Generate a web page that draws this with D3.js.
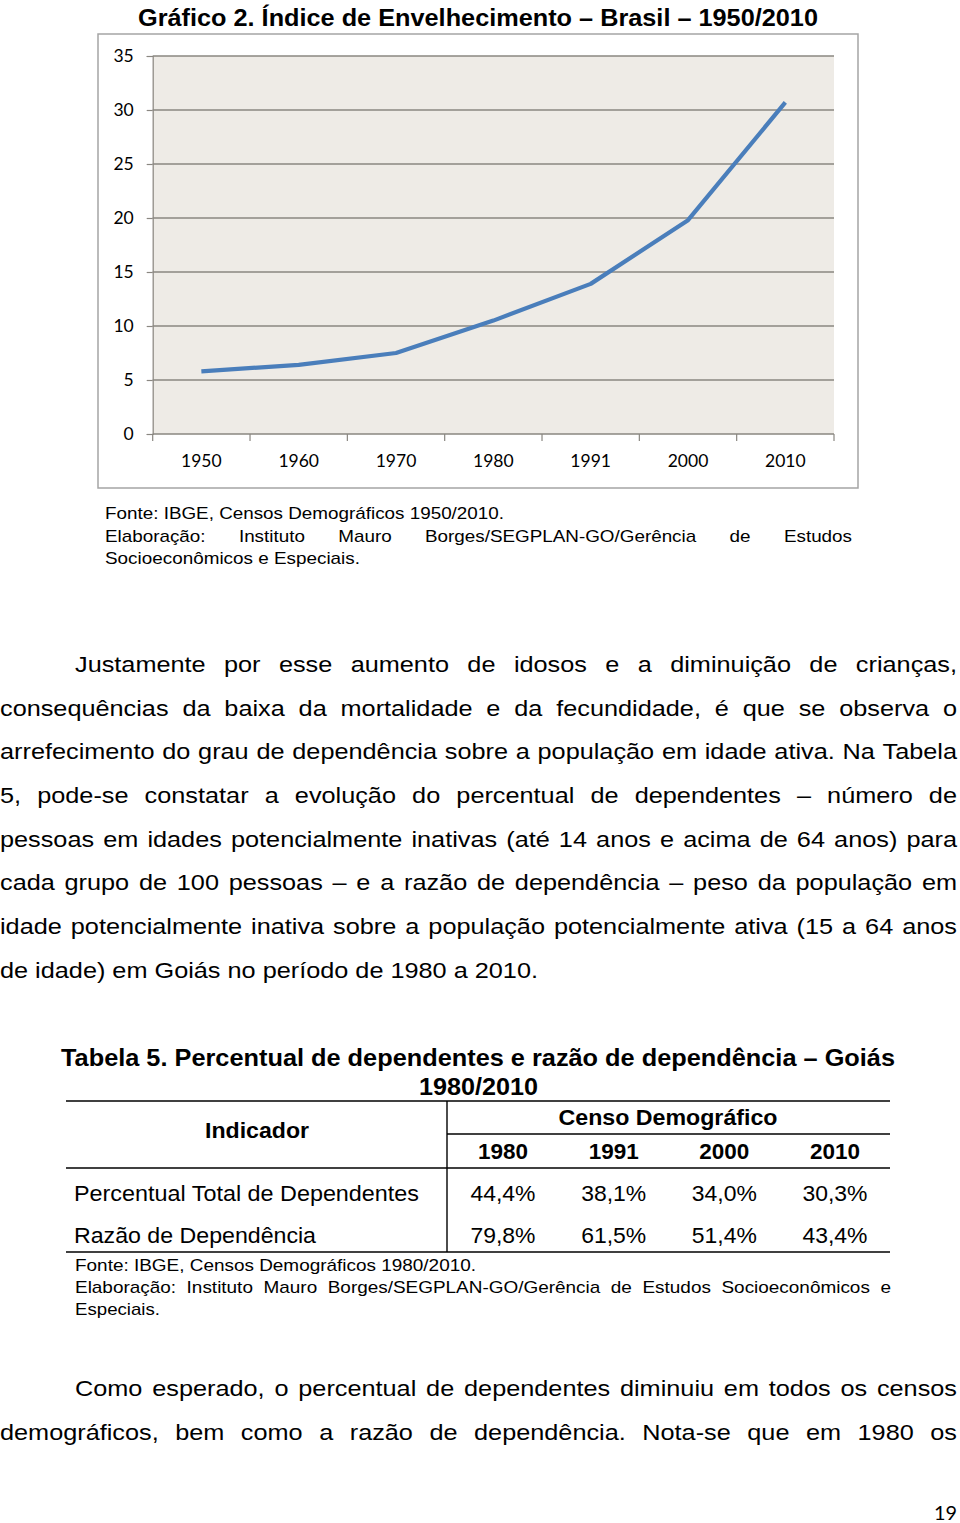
<!DOCTYPE html>
<html>
<head>
<meta charset="utf-8">
<script src="https://cdn.jsdelivr.net/npm/d3@7"></script>
<style>
  html, body { margin: 0; padding: 0; background: #fff; }
  svg { display: block; }
</style>
</head>
<body>
<script>
// ---------- DATA ----------
const years = ["1950", "1960", "1970", "1980", "1991", "2000", "2010"];
const indexValues = [5.8, 6.4, 7.5, 10.5, 13.9, 19.8, 30.7];
const yTicks = [0, 5, 10, 15, 20, 25, 30, 35];

const tableYears = ["1980", "1991", "2000", "2010"];
const rowLabels = ["Percentual Total de Dependentes", "Razão de Dependência"];
const rowPercentual = ["44,4%", "38,1%", "34,0%", "30,3%"];
const rowRazao = ["79,8%", "61,5%", "51,4%", "43,4%"];

const chartTitle = "Gráfico 2. Índice de Envelhecimento – Brasil – 1950/2010";
const chartSource = [
  "Fonte: IBGE, Censos Demográficos 1950/2010.",
  "Elaboração: Instituto Mauro Borges/SEGPLAN-GO/Gerência de Estudos",
  "Socioeconômicos e Especiais."
];
const bodyLines = [
  "Justamente por esse aumento de idosos e a diminuição de crianças,",
  "consequências da baixa da mortalidade e da fecundidade, é que se observa o",
  "arrefecimento do grau de dependência sobre a população em idade ativa. Na Tabela",
  "5, pode-se constatar a evolução do percentual de dependentes – número de",
  "pessoas em idades potencialmente inativas (até 14 anos e acima de 64 anos) para",
  "cada grupo de 100 pessoas – e a razão de dependência – peso da população em",
  "idade potencialmente inativa sobre a população potencialmente ativa (15 a 64 anos",
  "de idade) em Goiás no período de 1980 a 2010."
];
const tableTitle = ["Tabela 5. Percentual de dependentes e razão de dependência – Goiás", "1980/2010"];
const tableSource = [
  "Fonte: IBGE, Censos Demográficos 1980/2010.",
  "Elaboração: Instituto Mauro Borges/SEGPLAN-GO/Gerência de Estudos Socioeconômicos e",
  "Especiais."
];
const finalLines = [
  "Como esperado, o percentual de dependentes diminuiu em todos os censos",
  "demográficos, bem como a razão de dependência. Nota-se que em 1980 os"
];

// ---------- SETUP ----------
const W = 960, H = 1523;
const svg = d3.select("body").append("svg").attr("width", W).attr("height", H);
svg.append("rect").attr("width", W).attr("height", H).attr("fill", "#fff");

const ARIAL = "'Liberation Sans', Arial, sans-serif";
const CAL = "Lato, Carlito, Calibri, sans-serif";

function styled(g, str, opts) {
  return g.append("text")
    .attr("font-family", opts.family || ARIAL)
    .attr("font-size", opts.size)
    .attr("font-weight", opts.weight || "normal")
    .attr("fill", "#000")
    .text(str);
}
function measure(str, opts) {
  const t = styled(svg, str, opts);
  const w = t.node().getComputedTextLength();
  t.remove();
  return w;
}
function fitText(g, str, x, y, width, opts) {
  const t = styled(g, str, opts).attr("x", x).attr("y", y);
  if (width) t.attr("textLength", width).attr("lengthAdjust", "spacingAndGlyphs");
  if (opts.anchor) t.attr("text-anchor", opts.anchor);
  return t;
}
function justify(g, str, x0, x1, y, opts, scale) {
  const words = str.split(" ");
  const widths = words.map(w => measure(w, opts) * scale);
  const gap = (x1 - x0 - d3.sum(widths)) / (words.length - 1);
  let x = x0;
  words.forEach((w, i) => {
    fitText(g, w, x, y, widths[i], opts);
    x += widths[i] + gap;
  });
}

// ---------- CHART ----------
const chart = svg.append("g");
fitText(chart, chartTitle, 138, 26, 680, { size: 24, weight: "bold" });

chart.append("rect")
  .attr("x", 98).attr("y", 34).attr("width", 760).attr("height", 454)
  .attr("fill", "#fff").attr("stroke", "#a5a5a5").attr("stroke-width", 1.5);

const plotL = 152.7, plotR = 834, plotT = 56, plotB = 434;
const x = d3.scaleBand().domain(years).range([plotL, plotR]).padding(0);
const y = d3.scaleLinear().domain([0, 35]).range([plotB, plotT]);

chart.append("rect")
  .attr("x", plotL).attr("y", plotT)
  .attr("width", plotR - plotL).attr("height", plotB - plotT)
  .attr("fill", "#eeebe6");

chart.append("g").selectAll("line").data(yTicks.filter(d => d > 0)).join("line")
  .attr("x1", plotL).attr("x2", plotR)
  .attr("y1", d => y(d)).attr("y2", d => y(d))
  .attr("stroke", "#8a8781").attr("stroke-width", 1.4);

const yAxis = d3.axisLeft(y).tickValues(yTicks).tickSize(6).tickPadding(13);
const gy = chart.append("g").attr("transform", `translate(${plotL},0)`).call(yAxis);
gy.select(".domain").attr("stroke", "#8a8781").attr("stroke-width", 1.2);
gy.selectAll(".tick line").attr("stroke", "#8a8781").attr("stroke-width", 1.2);
gy.selectAll(".tick text").attr("font-family", CAL).attr("font-size", 17.5).attr("fill", "#000");

const gx = chart.append("g").attr("transform", `translate(0,${plotB})`);
gx.append("line").attr("x1", plotL).attr("x2", plotR).attr("y1", 0).attr("y2", 0)
  .attr("stroke", "#8a8781").attr("stroke-width", 1.4);
const bounds = years.map(d => x(d)).concat([x(years[years.length - 1]) + x.bandwidth()]);
gx.selectAll("line.tk").data(bounds).join("line").attr("class", "tk")
  .attr("x1", d => d).attr("x2", d => d).attr("y1", 0).attr("y2", 7)
  .attr("stroke", "#8a8781").attr("stroke-width", 1.2);
gx.selectAll("text").data(years).join("text")
  .attr("x", d => x(d) + x.bandwidth() / 2).attr("y", 33)
  .attr("text-anchor", "middle")
  .attr("font-family", CAL).attr("font-size", 17.5).attr("fill", "#000")
  .text(d => d);

const line = d3.line()
  .x((d, i) => x(years[i]) + x.bandwidth() / 2)
  .y(d => y(d));
chart.append("path").datum(indexValues)
  .attr("d", line).attr("fill", "none")
  .attr("stroke", "#4a7ebb").attr("stroke-width", 4.2)
  .attr("stroke-linejoin", "round").attr("stroke-linecap", "butt");

// chart source
const srcOpts = { size: 17 };
const srcScale = 399 / measure(chartSource[0], srcOpts);
fitText(svg, chartSource[0], 105, 519, 399, srcOpts);
justify(svg, chartSource[1], 105, 852, 542, srcOpts, srcScale);
fitText(svg, chartSource[2], 105, 564, 255, srcOpts);

// ---------- BODY ----------
const bodyOpts = { size: 22 };
const bodyScale = 538 / measure(bodyLines[bodyLines.length - 1], bodyOpts);
const bodyY0 = 672, bodyStep = 43.65;
bodyLines.forEach((ln, i) => {
  const yy = bodyY0 + i * bodyStep;
  if (i === bodyLines.length - 1) {
    fitText(svg, ln, 0, yy, 538, bodyOpts);
  } else {
    justify(svg, ln, i === 0 ? 75 : 0, 957, yy, bodyOpts, bodyScale);
  }
});

// ---------- TABLE ----------
const tb = svg.append("g");
fitText(tb, tableTitle[0], 61, 1066, 834, { size: 24, weight: "bold" });
fitText(tb, tableTitle[1], 419, 1095, 119, { size: 24, weight: "bold" });

const colX = d3.scalePoint().domain(tableYears).range([503, 835]);

const rule = (x1, x2, y1, y2) => tb.append("line")
  .attr("x1", x1).attr("x2", x2).attr("y1", y1).attr("y2", y2)
  .attr("stroke", "#000").attr("stroke-width", 1.4);
rule(66, 890, 1101, 1101);
rule(447, 890, 1134, 1134);
rule(66, 890, 1168, 1168);
rule(66, 890, 1252, 1252);
rule(447, 447, 1101, 1252);

fitText(tb, "Indicador", 257, 1138, 104, { size: 22, weight: "bold", anchor: "middle" });
fitText(tb, "Censo Demográfico", 668, 1125, 219, { size: 22, weight: "bold", anchor: "middle" });
tableYears.forEach(yr => fitText(tb, yr, colX(yr), 1159, 50, { size: 22, weight: "bold", anchor: "middle" }));

fitText(tb, rowLabels[0], 74, 1201, 345, { size: 22 });
fitText(tb, rowLabels[1], 74, 1243, 242, { size: 22 });
rowPercentual.forEach((v, i) => fitText(tb, v, colX(tableYears[i]), 1201, 65, { size: 22, anchor: "middle" }));
rowRazao.forEach((v, i) => fitText(tb, v, colX(tableYears[i]), 1243, 65, { size: 22, anchor: "middle" }));

const tsOpts = { size: 17 };
const tsScale = 401 / measure(tableSource[0], tsOpts);
fitText(tb, tableSource[0], 75, 1271, 401, tsOpts);
justify(tb, tableSource[1], 75, 891, 1293, tsOpts, tsScale);
fitText(tb, tableSource[2], 75, 1315, 85, tsOpts);

// ---------- FINAL PARAGRAPH ----------
justify(svg, finalLines[0], 75, 957, 1396, bodyOpts, bodyScale);
justify(svg, finalLines[1], 0, 957, 1440, bodyOpts, bodyScale);

fitText(svg, "19", 934, 1520, 23, { size: 20, family: CAL });
</script>
</body>
</html>
